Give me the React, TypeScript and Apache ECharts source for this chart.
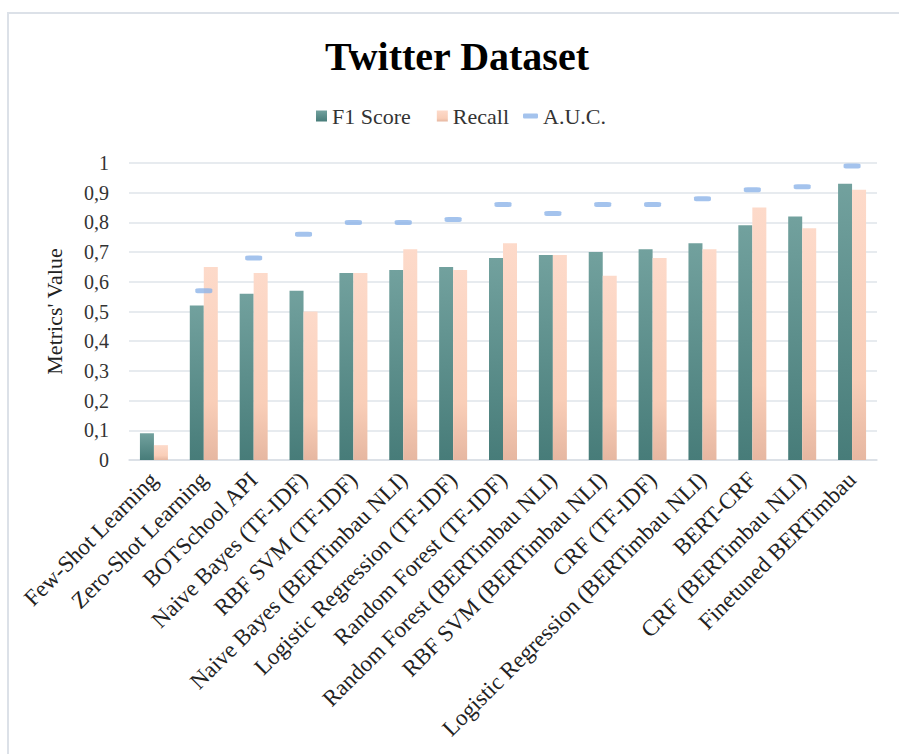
import React, { useEffect, useRef } from "react";
import * as echarts from "echarts";

const categories = [
  "Few-Shot Learning",
  "Zero-Shot Learning",
  "BOTSchool API",
  "Naive Bayes (TF-IDF)",
  "RBF SVM (TF-IDF)",
  "Naive Bayes (BERTimbau NLI)",
  "Logistic Regression (TF-IDF)",
  "Random Forest (TF-IDF)",
  "Random Forest (BERTimbau NLI)",
  "RBF SVM (BERTimbau NLI)",
  "CRF (TF-IDF)",
  "Logistic Regression (BERTimbau NLI)",
  "BERT-CRF",
  "CRF (BERTimbau NLI)",
  "Finetuned BERTimbau",
];

const f1Score = [0.09, 0.52, 0.56, 0.57, 0.63, 0.64, 0.65, 0.68, 0.69, 0.7, 0.71, 0.73, 0.79, 0.82, 0.93];
const recall = [0.05, 0.65, 0.63, 0.5, 0.63, 0.71, 0.64, 0.73, 0.69, 0.62, 0.68, 0.71, 0.85, 0.78, 0.91];
const auc: (number | null)[] = [null, 0.57, 0.68, 0.76, 0.8, 0.8, 0.81, 0.86, 0.83, 0.86, 0.86, 0.88, 0.91, 0.92, 0.99];

const FONT = "'Liberation Serif', 'Times New Roman', serif";

export default function App() {
  const ref = useRef<HTMLDivElement>(null);

  useEffect(() => {
    if (!ref.current) return;
    const chart = echarts.init(ref.current, undefined, { renderer: "svg" });
    chart.setOption({
      animation: false,
      backgroundColor: "#ffffff",
      textStyle: { fontFamily: FONT },
      graphic: [
        {
          type: "rect",
          shape: { x: 8, y: 13, width: 1000, height: 1000 },
          style: { fill: "none", stroke: "#dce1e8", lineWidth: 2 },
          silent: true,
          z: -1,
        },
      ],
      title: {
        text: "Twitter Dataset",
        left: 320,
        top: 31,
        textStyle: { fontFamily: FONT, fontSize: 40, fontWeight: "bold", color: "#000000" },
      },
      legend: [
        {
          left: 316,
          top: 105,
          padding: 0,
          itemWidth: 11,
          itemHeight: 11,
          itemGap: 26,
          icon: "rect",
          data: ["F1 Score", "Recall"],
          textStyle: { fontFamily: FONT, fontSize: 22, color: "#333333" },
        },
        {
          left: 523,
          top: 105,
          padding: 0,
          itemWidth: 15,
          itemHeight: 5,
          icon: "roundRect",
          data: ["A.U.C."],
          textStyle: { fontFamily: FONT, fontSize: 22, color: "#333333" },
        },
      ],
      grid: { left: 129, right: 22, top: 163, bottom: 294, containLabel: false },
      xAxis: {
        type: "category",
        data: categories,
        axisTick: { show: false },
        axisLine: { lineStyle: { color: "#d9dee5", width: 1.5 } },
        axisLabel: {
          rotate: 45,
          interval: 0,
          margin: 16,
          fontFamily: FONT,
          fontSize: 23,
          color: "#222222",
        },
      },
      yAxis: {
        type: "value",
        min: 0,
        max: 1,
        interval: 0.1,
        name: "Metrics' Value",
        nameLocation: "middle",
        nameGap: 64,
        nameTextStyle: { fontFamily: FONT, fontSize: 22, color: "#222222" },
        axisLine: { show: false },
        axisTick: { show: false },
        splitLine: { lineStyle: { color: "#dfe4ea", width: 1.5 } },
        axisLabel: {
          fontFamily: FONT,
          fontSize: 20,
          color: "#333333",
          margin: 20,
          formatter: (v: number) =>
            v === 0 ? "0" : v === 1 ? "1" : v.toFixed(1).replace(".", ","),
        },
      },
      series: [
        {
          name: "F1 Score",
          type: "bar",
          data: f1Score,
          barWidth: 14,
          barGap: "0%",
          itemStyle: {
            color: new echarts.graphic.LinearGradient(0, 0, 0, 1, [
              { offset: 0, color: "#72a19e" },
              { offset: 1, color: "#477c79" },
            ]),
          },
        },
        {
          name: "Recall",
          type: "bar",
          data: recall,
          barWidth: 14,
          barGap: "0%",
          itemStyle: {
            color: new echarts.graphic.LinearGradient(0, 0, 0, 1, [
              { offset: 0, color: "#fddaca" },
              { offset: 0.7, color: "#f9ceb8" },
              { offset: 1, color: "#e6b7a1" },
            ]),
          },
        },
        {
          name: "A.U.C.",
          type: "scatter",
          data: auc,
          symbol: "roundRect",
          symbolSize: [17, 5],
          itemStyle: { color: "#8db4e9" },
          z: 5,
        },
      ],
    });
    return () => chart.dispose();
  }, []);

  return (
    <div
      ref={ref}
      style={{ position: "absolute", left: 0, top: 0, width: 899, height: 754 }}
    />
  );
}
